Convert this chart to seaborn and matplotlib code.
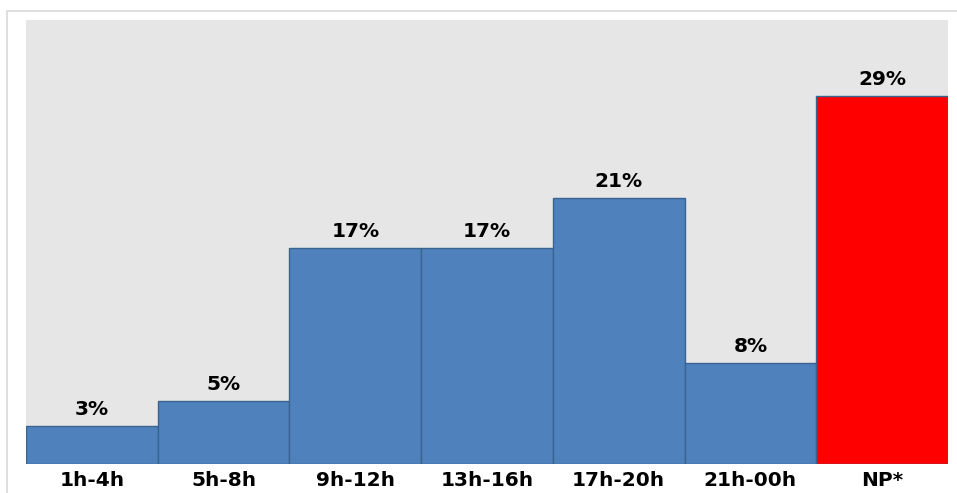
import pandas as pd
import matplotlib.pyplot as plt
import seaborn as sns
from matplotlib.patches import Rectangle

# Data
categories = ['1h-4h', '5h-8h', '9h-12h', '13h-16h', '17h-20h', '21h-00h', 'NP*']
values = [3, 5, 17, 17, 21, 8, 29]
colors = ['#4f81bd'] * 6 + ['#ff0000']

df = pd.DataFrame({'slot': categories, 'pct': values})

sns.set_style('white')
plt.rcParams['font.family'] = ['DejaVu Sans']

fig = plt.figure(figsize=(9.57, 4.93), dpi=100)
ax = fig.add_axes([26 / 957, 29 / 493, 922 / 957, 444 / 493])
ax.set_facecolor('#e6e6e6')

sns.barplot(data=df, x='slot', y='pct', hue='slot', palette=colors, legend=False,
            width=1.0, edgecolor='#3b6390', linewidth=1.0, saturation=1, ax=ax)

# value labels above bars
for i, v in enumerate(values):
    ax.text(i, v + 0.55, f'{v}%', ha='center', va='bottom',
            fontsize=14.5, fontweight='bold', color='black')

ax.set_xlim(-0.5, len(categories) - 0.5)
ax.set_ylim(0, 35)
ax.set_yticks([])
ax.set_xlabel('')
ax.set_ylabel('')
ax.tick_params(axis='x', length=0, pad=5, colors='black')
for lab in ax.get_xticklabels():
    lab.set_fontweight('bold')
    lab.set_fontsize(14.5)
    lab.set_color('black')
for s in ax.spines.values():
    s.set_visible(False)

# light outer border around the chart area
fig.patches.append(Rectangle((7 / 957, -0.1), 1.2, (493 - 11) / 493 + 0.1,
                             transform=fig.transFigure, fill=False,
                             edgecolor='#d9d9d9', linewidth=1.2, zorder=-1))

fig.savefig('out.png', dpi=100)
